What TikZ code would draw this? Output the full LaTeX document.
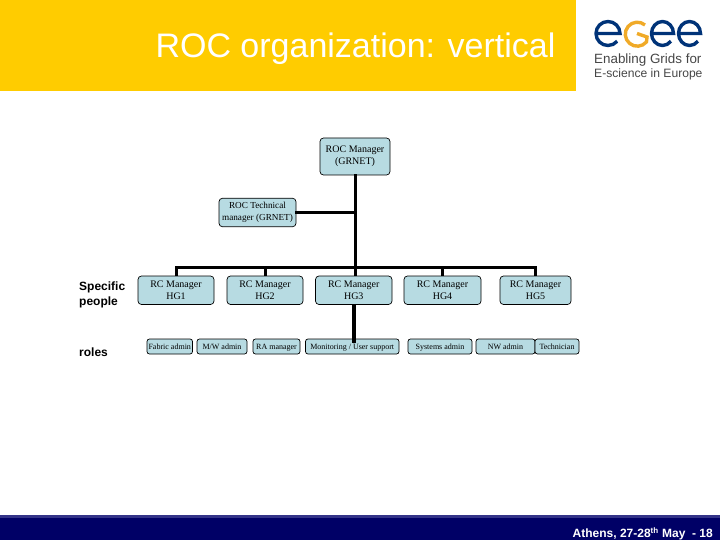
\documentclass[tikz,border=0pt]{standalone}
\usepackage{fontspec}
\setmainfont{Liberation Serif}
\newfontfamily\arialfont{Liberation Sans}
\usetikzlibrary{calc}
\definecolor{headyellow}{RGB}{255,204,0}
\definecolor{footnavy}{RGB}{0,0,102}
\definecolor{footband}{RGB}{51,51,136}
\definecolor{boxblue}{RGB}{183,219,226}
\definecolor{logoblue}{RGB}{0,51,120}
\definecolor{logogold}{RGB}{240,170,40}
\definecolor{logogrey}{RGB}{70,70,70}
\tikzset{
	orgbox/.style={draw=black, fill=boxblue, rounded corners=3.5pt, line width=0.7pt,
		inner sep=0pt, align=center, font=\fontsize{10}{12}\selectfont, anchor=center},
	rolebox/.style={orgbox, rounded corners=2.5pt, font=\fontsize{8}{9}\selectfont,
		text height=5.5pt, text depth=0.5pt},
	bus/.style={line width=3pt, line cap=rect},
	sidelabel/.style={font=\arialfont\bfseries\fontsize{12}{15}\selectfont, align=left, anchor=west, inner sep=0pt},
	logoletter/.style={line width=3.4pt, logoblue},
}
% one round letter of the logo, centre and radius
\newcommand{\logoe}[3][logoletter]{
	\draw[#1] ($(#2)+(-#3+2,0)$) -- ($(#2)+(#3-2,0)$)
		arc (0:-180:#3-2 and 12) arc (-180:-320:#3-2 and 12);
}
\begin{document}
\begin{tikzpicture}[x=1pt,y=-1pt]
	\useasboundingbox (0,0) rectangle (720,540);

	% header and footer
	\fill[headyellow] (0,0) rectangle (576,91);
	\fill[footnavy] (0,516) rectangle (720,540);
	\fill[footband] (0,515) rectangle (720,518);
	\node[text=white, anchor=center, font=\arialfont\fontsize{34}{38}\selectfont] (title) at (355.5,49)
		{ROC organization: vertical};
	\node[text=white, anchor=east, inner sep=0pt, font=\arialfont\bfseries\fontsize{12}{14}\selectfont] (foot) at (713,534)
		{Athens, 27-28\textsuperscript{th} May\ \ -\ 18};

	% the logo
	\logoe{608,33.5}{14}
	\draw[logoletter, logogold] (645,25) arc (-50:-320:12 and 12) -- (647,37) -- (637,33.5);
	\logoe{662.5,33.5}{13}
	\logoe{689.5,33.5}{13}
	\node[text=logogrey, anchor=west, inner sep=0pt, align=left, font=\arialfont\fontsize{13.4}{14}\selectfont] (logotext) at (594,67)
		{Enabling Grids for\\\fontsize{12.1}{14}\selectfont E-science in Europe};

	% managers
	\node[orgbox, minimum width=70pt, minimum height=37pt] (mgr) at (355,156.5) {ROC Manager\\(GRNET)};
	\node[orgbox, minimum width=77pt, minimum height=28.5pt, font=\fontsize{9.2}{12}\selectfont] (tech) at (257.5,212.5) {ROC Technical\\manager (GRNET)};
	\foreach \name/\cx/\bw/\txt in {hgA/176/76/HG1, hgB/265/76/HG2, hgC/353.75/76.5/HG3, hgD/442.5/77/HG4, hgE/535.5/71/HG5}
		\node[orgbox, minimum width=\bw pt, minimum height=28.5pt] (\name) at (\cx,290.25) {RC Manager\\\txt};

	% roles
	\foreach \name/\cx/\bw/\txt in {fab/169.75/45.5/{Fabric admin}, mw/222/50/{M/W admin}, ra/276.5/47/{RA manager},
		mon/352.25/93.5/{Monitoring / User support}, sys/440/64/{Systems admin}, nw/505.5/59/{NW admin}, tcn/557/44/{Technician}}
		\node[rolebox, minimum width=\bw pt, minimum height=15pt] (\name) at (\cx,346.5) {\txt};

	\node[sidelabel] (people) at (79,295) {Specific\\people};
	\node[sidelabel] (roles) at (79,352.5) {roles};

	% the tree
	\coordinate (busL) at (hgA.north |- 0,267);
	\coordinate (busR) at (hgE.north |- 0,267);
	\draw[bus] (mgr.south) -- (mgr.south |- busL);
	\draw[bus] (tech.east) -- (tech.east -| mgr.south);
	\draw[bus] (busL) -- (busR);
	\draw[bus, line cap=butt] (busL) -- (hgA.north);
	\draw[bus, line cap=butt] (hgB.north |- busL) -- (hgB.north);
	\draw[bus, line cap=butt] (mgr.south |- busL) -- (mgr.south |- hgC.north);
	\draw[bus, line cap=butt] (hgD.north |- busL) -- (hgD.north);
	\draw[bus, line cap=butt] (busR) -- (hgE.north);
	\coordinate (stubend) at (hgC.south |- 0,343);
	\draw[line width=3.6pt] (hgC.south) -- (stubend);
\end{tikzpicture}
\end{document}
